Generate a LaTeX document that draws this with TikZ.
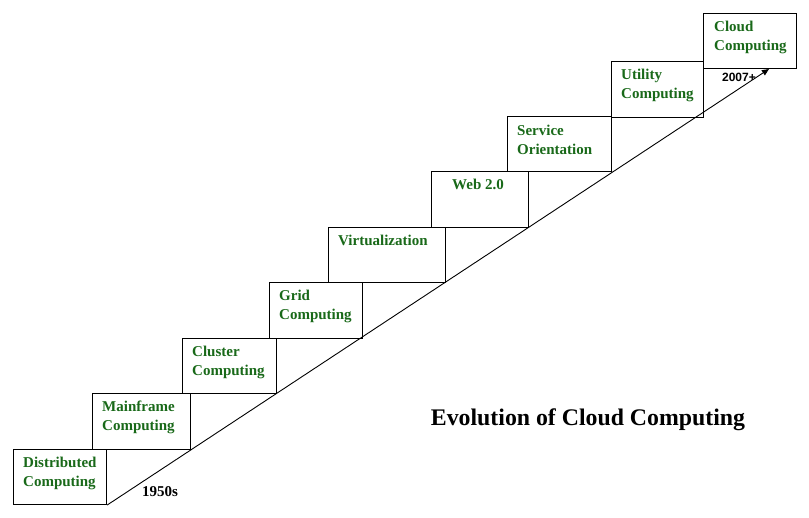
\documentclass[tikz,border=0pt]{standalone}
\usepackage{fontspec}
\setmainfont{Liberation Serif}
\newfontfamily\arialfont{Liberation Sans}
\usetikzlibrary{arrows.meta,calc}
\definecolor{stepgreen}{RGB}{25,105,25}
\begin{document}
\begin{tikzpicture}[x=1pt,y=-1pt,
  stair/.style={draw=black,line width=1.1pt,rectangle,inner sep=0pt,anchor=north west},
  lbl/.style={anchor=north west,align=left,inner sep=0pt,text=stepgreen,
    font=\bfseries\fontsize{15}{19}\selectfont},
  yearlbl/.style={inner sep=0pt,text=black}]
\useasboundingbox (0,0) rectangle (809,518);
% boxes: left, top, width, height
\node[stair,minimum width=93pt,minimum height=55pt] (b1) at (13,449) {};
\node[stair,minimum width=98pt,minimum height=56pt] (b2) at (92,393) {};
\node[stair,minimum width=94pt,minimum height=55pt] (b3) at (182,338) {};
\node[stair,minimum width=93pt,minimum height=56pt] (b4) at (269,282) {};
\node[stair,minimum width=117pt,minimum height=55pt] (b5) at (328,227) {};
\node[stair,minimum width=97pt,minimum height=56pt] (b6) at (431,171) {};
\node[stair,minimum width=104pt,minimum height=55pt] (b7) at (507,116) {};
\node[stair,minimum width=92pt,minimum height=56pt] (b8) at (611,61) {};
\node[stair,minimum width=93pt,minimum height=55pt] (b9) at (703,13) {};
% labels
\node[lbl] (t1) at ($(b1.north west)+(10,8)$) {Distributed\\Computing};
\node[lbl] (t2) at ($(b2.north west)+(10,8)$) {Mainframe\\Computing};
\node[lbl] (t3) at ($(b3.north west)+(10,7.5)$) {Cluster\\Computing};
\node[lbl] (t4) at ($(b4.north west)+(10,8)$) {Grid\\Computing};
\node[lbl] (t5) at ($(b5.north west)+(10,8)$) {Virtualization};
\node[lbl] (t6) at ($(b6.north west)+(21,8)$) {Web 2.0};
\node[lbl] (t7) at ($(b7.north west)+(10,8.5)$) {Service\\Orientation};
\node[lbl] (t8) at ($(b8.north west)+(10,8)$) {Utility\\Computing};
\node[lbl] (t9) at ($(b9.north west)+(11,8)$) {Cloud\\Computing};
% timeline arrow
\coordinate (tip) at (769,69);
\draw[line width=0.9pt,-{Triangle[length=7pt,width=6pt]}] (b1.south east) -- (tip);
\node[yearlbl,font=\bfseries\fontsize{15}{18}\selectfont] (y1) at (160,492) {1950s};
\node[yearlbl,font=\arialfont\bfseries\fontsize{12}{14}\selectfont] (y2) at (739,77) {2007+};
\node[inner sep=0pt,font=\bfseries\fontsize{23.8}{28}\selectfont] (title) at (588,420) {Evolution of Cloud Computing};
\end{tikzpicture}
\end{document}
